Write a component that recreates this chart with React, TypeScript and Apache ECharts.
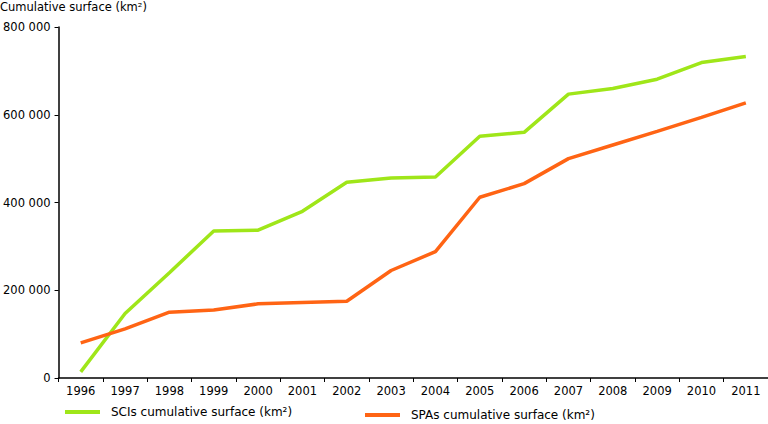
import React, { useRef, useEffect } from 'react';
import * as echarts from 'echarts';

const years = ['1996', '1997', '1998', '1999', '2000', '2001', '2002', '2003', '2004', '2005', '2006', '2007', '2008', '2009', '2010', '2011'];
const sciValues = [14000, 147000, 240000, 335000, 337000, 380000, 446000, 456000, 458000, 551000, 560000, 647000, 660000, 681000, 719000, 733000];
const spaValues = [80000, 112000, 150000, 155000, 169000, 172000, 175000, 245000, 288000, 412000, 443000, 500000, 531000, 562000, 594000, 627000];
const yTicks = [0, 200000, 400000, 600000, 800000];
const sciName = 'SCIs cumulative surface (km²)';
const spaName = 'SPAs cumulative surface (km²)';

const FONT = '"DejaVu Sans", Verdana, sans-serif';
const fmt = (v: number) => String(v).replace(/\B(?=(\d{3})+(?!\d))/g, ' ');

const legendBase = {
  itemWidth: 35,
  itemHeight: 4,
  icon: 'rect',
  padding: 0,
  textStyle: { fontFamily: FONT, fontSize: 12, color: '#000', padding: [0, 0, 0, 6] },
};

export default function App() {
  const chartRef = useRef<HTMLDivElement>(null);

  useEffect(() => {
    if (!chartRef.current) return;
    const chart = echarts.init(chartRef.current, undefined, { renderer: 'svg' });

    const option: echarts.EChartsOption = {
      animation: false,
      backgroundColor: '#fff',
      textStyle: { fontFamily: FONT, color: '#000' },
      title: {
        text: 'Cumulative surface (km²)',
        left: 0,
        top: 1,
        padding: 0,
        textStyle: { fontFamily: FONT, fontSize: 11.5, fontWeight: 'normal', color: '#000' },
      },
      legend: [
        { ...legendBase, left: 65, top: 406, data: [sciName] },
        { ...legendBase, left: 365, top: 409, data: [spaName] },
      ],
      grid: { left: 58, right: 0, top: 27, bottom: 46, containLabel: false },
      xAxis: {
        type: 'category',
        data: years,
        boundaryGap: true,
        axisLine: { lineStyle: { color: '#000', width: 1.5 } },
        axisTick: { show: true, length: 4, lineStyle: { color: '#000' } },
        axisLabel: { fontFamily: FONT, fontSize: 11.5, color: '#000', margin: 7 },
      },
      yAxis: {
        type: 'value',
        min: yTicks[0],
        max: yTicks[yTicks.length - 1],
        interval: yTicks[1] - yTicks[0],
        axisLine: { show: true, lineStyle: { color: '#000', width: 1.5 } },
        axisTick: { show: true, length: 4, lineStyle: { color: '#000' } },
        splitLine: { show: false },
        axisLabel: { fontFamily: FONT, fontSize: 11.5, color: '#000', margin: 8, formatter: (v: number) => fmt(v) },
      },
      series: [
        {
          name: sciName,
          type: 'line',
          data: sciValues,
          symbol: 'none',
          color: '#9fe619',
          lineStyle: { width: 3.5, color: '#9fe619' },
        },
        {
          name: spaName,
          type: 'line',
          data: spaValues,
          symbol: 'none',
          color: '#ff6414',
          lineStyle: { width: 3.5, color: '#ff6414' },
        },
      ],
    };

    chart.setOption(option);
    return () => chart.dispose();
  }, []);

  return <div ref={chartRef} style={{ width: 768, height: 424, position: 'absolute', left: 0, top: 0 }} />;
}
